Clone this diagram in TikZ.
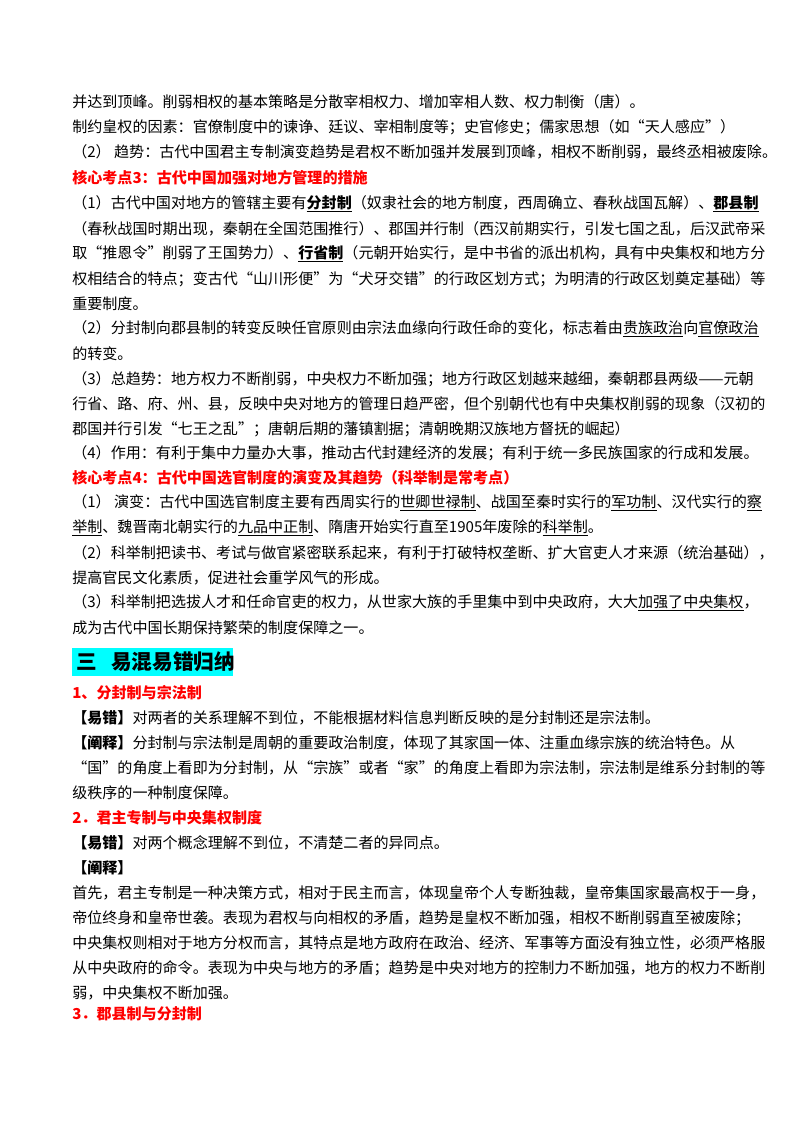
\documentclass[tikz,border=0pt]{standalone}
\usepackage{fontspec}
\setmainfont{Noto Sans CJK SC}
\newfontfamily\cjk{Noto Sans CJK SC}
\definecolor{hred}{HTML}{FF0000}
\definecolor{hcyan}{HTML}{00FFFF}
\begin{document}
\begin{tikzpicture}[x=0.75pt,y=-0.75pt,
  ln/.style={anchor=west,inner sep=0pt,font=\fontsize{11.3}{13}\selectfont},
  hd/.style={ln,text=hred,font=\fontsize{11.3}{13}\selectfont\bfseries}]
\useasboundingbox (0,0) rectangle (800,1132);
\fill[white] (0,0) rectangle (800,1132);
\newcommand\ul[1]{\underline{#1}}
\node[ln] (l1) at (72,102) {并达到顶峰。削弱相权的基本策略是分散宰相权力、增加宰相人数、权力制衡（唐）。};
\node[ln] (l2) at (72,127) {制约皇权的因素：官僚制度中的谏诤、廷议、宰相制度等；史官修史；儒家思想（如“天人感应”）};
\node[ln] (l3) at (72,152) {（2）\ 趋势：古代中国君主专制演变趋势是君权不断加强并发展到顶峰，相权不断削弱，最终丞相被废除。};
\node[hd] (h3) at (72,178) {核心考点3：古代中国加强对地方管理的措施};
\node[ln] (l4) at (72,204) {（1）古代中国对地方的管辖主要有\textbf{\ul{分封制}}（奴隶社会的地方制度，西周确立、春秋战国瓦解）、\textbf{\ul{郡县制}}};
\node[ln] (l5) at (72,229) {（春秋战国时期出现，秦朝在全国范围推行）、郡国并行制（西汉前期实行，引发七国之乱，后汉武帝采};
\node[ln] (l6) at (72,254) {取“推恩令”削弱了王国势力）、\textbf{\ul{行省制}}（元朝开始实行，是中书省的派出机构，具有中央集权和地方分};
\node[ln] (l7) at (72,279) {权相结合的特点；变古代“山川形便”为“犬牙交错”的行政区划方式；为明清的行政区划奠定基础）等};
\node[ln] (l8) at (72,304) {重要制度。};
\node[ln] (l9) at (72,329) {（2）分封制向郡县制的转变反映任官原则由宗法血缘向行政任命的变化，标志着由\ul{贵族政治}向\ul{官僚政治}};
\node[ln] (l10) at (72,354) {的转变。};
\node[ln] (l11) at (72,379) {（3）总趋势：地方权力不断削弱，中央权力不断加强；地方行政区划越来越细，秦朝郡县两级——元朝};
\node[ln] (l12) at (72,404) {行省、路、府、州、县，反映中央对地方的管理日趋严密，但个别朝代也有中央集权削弱的现象（汉初的};
\node[ln] (l13) at (72,429) {郡国并行引发“七王之乱”；唐朝后期的藩镇割据；清朝晚期汉族地方督抚的崛起）};
\node[ln] (l14) at (72,453) {（4）作用：有利于集中力量办大事，推动古代封建经济的发展；有利于统一多民族国家的行成和发展。};
\node[hd] (h4) at (72,478) {核心考点4：古代中国选官制度的演变及其趋势（科举制是常考点）};
\node[ln] (l15) at (72,503) {（1）\ 演变：古代中国选官制度主要有西周实行的\ul{世卿世禄制}、战国至秦时实行的\ul{军功制}、汉代实行的\ul{察}};
\node[ln] (l16) at (72,528) {\ul{举制}、魏晋南北朝实行的\ul{九品中正制}、隋唐开始实行直至1905年废除的\ul{科举制}。};
\node[ln] (l17) at (72,553) {（2）科举制把读书、考试与做官紧密联系起来，有利于打破特权垄断、扩大官吏人才来源（统治基础），};
\node[ln] (l18) at (72,578) {提高官民文化素质，促进社会重学风气的形成。};
\node[ln] (l19) at (72,603) {（3）科举制把选拔人才和任命官吏的权力，从世家大族的手里集中到中央政府，大大\ul{加强了中央集权}，};
\node[ln] (l20) at (72,628) {成为古代中国长期保持繁荣的制度保障之一。};
\fill[hcyan] (72,648) rectangle (233,676);
\node[anchor=west,inner sep=0pt,font=\fontsize{15.5}{18}\selectfont\bfseries] (h5) at (76,662) {三\ \ \ 易混易错归纳};
\node[hd] (h6) at (72,693) {1、分封制与宗法制};
\node[ln] (l21) at (72,718) {\textbf{【易错】}对两者的关系理解不到位，不能根据材料信息判断反映的是分封制还是宗法制。};
\node[ln] (l22) at (72,743) {\textbf{【阐释】}分封制与宗法制是周朝的重要政治制度，体现了其家国一体、注重血缘宗族的统治特色。从};
\node[ln] (l23) at (72,768) {“国”的角度上看即为分封制，从“宗族”或者“家”的角度上看即为宗法制，宗法制是维系分封制的等};
\node[ln] (l24) at (72,793) {级秩序的一种制度保障。};
\node[hd] (h7) at (72,818) {2．君主专制与中央集权制度};
\node[ln] (l25) at (72,843) {\textbf{【易错】}对两个概念理解不到位，不清楚二者的异同点。};
\node[ln] (l26) at (72,868) {\textbf{【阐释】}};
\node[ln] (l27) at (72,893) {首先，君主专制是一种决策方式，相对于民主而言，体现皇帝个人专断独裁，皇帝集国家最高权于一身，};
\node[ln] (l28) at (72,918) {帝位终身和皇帝世袭。表现为君权与向相权的矛盾，趋势是皇权不断加强，相权不断削弱直至被废除；};
\node[ln] (l29) at (72,943) {中央集权则相对于地方分权而言，其特点是地方政府在政治、经济、军事等方面没有独立性，必须严格服};
\node[ln] (l30) at (72,968) {从中央政府的命令。表现为中央与地方的矛盾；趋势是中央对地方的控制力不断加强，地方的权力不断削};
\node[ln] (l31) at (72,993) {弱，中央集权不断加强。};
\node[hd] (h8) at (72,1014) {3．郡县制与分封制};
\end{tikzpicture}
\end{document}
